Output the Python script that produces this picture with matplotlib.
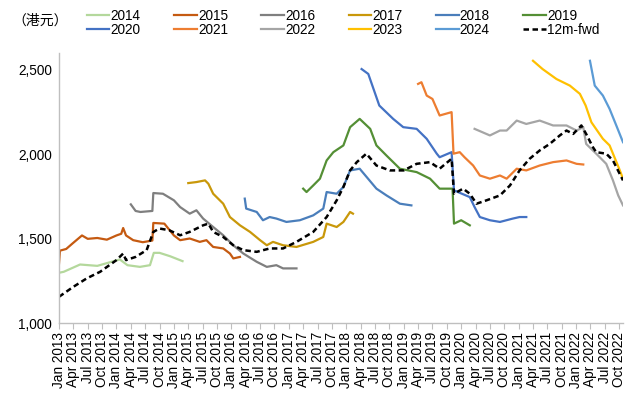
import matplotlib
matplotlib.use("Agg")
import matplotlib.pyplot as plt

plt.rcParams['font.family'] = ['Liberation Sans', 'Noto Sans CJK SC', 'DejaVu Sans']

# months counted from Jan 2013, values in HKD
m2014 = [0, 1, 4.4, 8, 12.7, 14.3, 16.9, 19, 19.8, 21, 23.2, 25.8]
v2014 = [1299, 1305, 1348, 1340, 1378, 1344, 1334, 1344, 1417, 1417, 1397, 1368]

m2015 = [0, 0.2, 1.5, 2.8, 4.8, 6, 8, 10, 12, 13, 13.4, 14, 15.5, 17.5, 19.5, 19.7, 22, 24, 25.3, 27.3,
         29.4, 30.8, 32.2, 34.3, 35.7, 36.4, 37.8]
v2015 = [1354, 1430, 1440, 1472, 1520, 1500, 1505, 1495, 1520, 1530, 1564, 1520, 1492, 1480, 1490, 1594, 1590,
         1520, 1492, 1502, 1482, 1492, 1452, 1443, 1413, 1384, 1393]

m2016 = [15, 16, 17, 19.5, 19.7, 21.7, 24, 25.3, 27.3, 28.7, 30.1, 32.2, 34.3, 36.4, 38.5, 41.3, 43.4, 45.4,
         46.8, 49.6]
v2016 = [1704, 1665, 1659, 1665, 1771, 1767, 1728, 1688, 1649, 1669, 1620, 1570, 1521, 1462, 1413, 1364, 1334,
         1344, 1325, 1325]

m2017 = [27, 28.7, 30.5, 31.2, 32.2, 34.3, 35.7, 37.8, 39.9, 42, 43.4, 44.7, 46.8, 49.6, 53.1, 55.2, 55.9,
         58, 59.4, 60.8, 61.4]
v2017 = [1830, 1836, 1846, 1826, 1767, 1708, 1629, 1580, 1541, 1492, 1462, 1482, 1462, 1452, 1482, 1511, 1590,
         1570, 1600, 1659, 1649]

m2018 = [38.8, 39.1, 41.3, 42.6, 44, 45.4, 47.5, 50.3, 53.1, 55.2, 55.9, 58, 59.4, 60.8, 62.8, 66.3, 68.4,
         71.2, 73.6]
v2018 = [1738, 1679, 1659, 1610, 1629, 1620, 1600, 1610, 1639, 1679, 1777, 1767, 1807, 1905, 1915, 1797, 1757,
         1708, 1698]

m2019 = [51, 51.7, 53.1, 54.5, 55.9, 57.3, 59.4, 60.8, 62.8, 65, 66.3, 68.4, 71.2, 74.7, 77.5, 79.5, 82.2,
         82.5, 84, 85.8]
v2019 = [1797, 1777, 1816, 1856, 1964, 2013, 2053, 2161, 2210, 2151, 2053, 1993, 1915, 1895, 1856, 1797, 1797,
         1590, 1610, 1580]

m2020 = [63.2, 64.6, 66.9, 69.8, 71.9, 74.7, 76.8, 78.9, 79.5, 82, 82.5, 85.8, 86.8, 87.9, 90, 92.1, 94.8,
         96.2, 97.6]
v2020 = [2505, 2476, 2289, 2210, 2161, 2151, 2092, 2004, 1983, 2013, 1787, 1747, 1688, 1629, 1610, 1600, 1620,
         1629, 1629]

m2021 = [75, 75.7, 76.8, 78, 79.5, 82, 82.4, 83.7, 84.7, 86.5, 87.9, 90, 92.1, 93.5, 95.6, 97.6, 100.4, 103.2,
         106, 108.1, 109.5]
v2021 = [2417, 2427, 2348, 2328, 2230, 2250, 2004, 2013, 1983, 1934, 1875, 1856, 1875, 1856, 1915, 1905, 1934,
         1954, 1964, 1944, 1940]

m2022 = [86.8, 90, 92.1, 93.5, 95.6, 97.6, 100.4, 103.2, 106, 108.1, 109.5, 110.1, 112.2, 114.3, 115.7, 116.8,
         117.8]
v2022 = [2151, 2112, 2141, 2141, 2200, 2180, 2200, 2171, 2171, 2141, 2161, 2062, 2004, 1944, 1846, 1757, 1698]

m2023 = [99, 101, 103.9, 106.7, 108.8, 110, 111.2, 113.6, 115, 117, 117.8]
v2023 = [2554, 2505, 2446, 2407, 2358, 2289, 2190, 2092, 2053, 1915, 1856]

m2024 = [110.9, 111.9, 113.6, 115, 116.4, 117.8]
v2024 = [2554, 2407, 2348, 2269, 2171, 2072]

m_fwd = [0, 3, 5.8, 8.6, 12, 13.4, 14, 16, 18.3, 19.7, 21, 23, 25.3, 27.3, 30.1, 31.2, 32.2, 34.3, 36.4, 38.5,
         41.3, 44, 46.8, 49.6, 53.1, 55.9, 58, 59.4, 60.8, 62.2, 64.2, 66.3, 69.1, 72, 74.7, 77.5, 79.5, 82,
         82.5, 84.4, 85.8, 87.2, 89.3, 92.1, 94.2, 96.2, 98.3, 100.4, 102.5, 104.6, 106, 107.4, 109.1, 110.1,
         111.5, 112.2, 114.3, 115.7, 117.8]
v_fwd = [1157, 1216, 1266, 1305, 1374, 1413, 1374, 1393, 1433, 1541, 1561, 1551, 1521, 1541, 1580, 1590, 1541,
         1511, 1462, 1433, 1423, 1443, 1443, 1482, 1541, 1629, 1728, 1807, 1905, 1954, 2004, 1934, 1905, 1905,
         1944, 1954, 1915, 1974, 1767, 1797, 1767, 1708, 1728, 1757, 1816, 1905, 1974, 2023, 2062, 2112, 2141,
         2121, 2171, 2121, 2043, 2013, 2004, 1964, 1846]

series = [
    ("2014", m2014, v2014, "#b4d89c"),
    ("2015", m2015, v2015, "#c55a11"),
    ("2016", m2016, v2016, "#7f7f7f"),
    ("2017", m2017, v2017, "#c9980a"),
    ("2018", m2018, v2018, "#4a7ebb"),
    ("2019", m2019, v2019, "#548f35"),
    ("2020", m2020, v2020, "#4472c4"),
    ("2021", m2021, v2021, "#ed7d31"),
    ("2022", m2022, v2022, "#a5a5a5"),
    ("2023", m2023, v2023, "#ffc000"),
    ("2024", m2024, v2024, "#5b9bd5"),
]

month_names = ["Jan", "Apr", "Jul", "Oct"]
tick_pos = list(range(0, 118, 3))
tick_labels = [f"{month_names[(p % 12) // 3]} {2013 + p // 12}" for p in tick_pos]

fig = plt.figure(figsize=(6.4, 3.97), dpi=100)
ax = fig.add_axes([59 / 640, 1 - 323.3 / 397, (623 - 59) / 640, (323.3 - 53) / 397])

handles = {}
for name, mx, vy, col in series:
    ln, = ax.plot(mx, vy, color=col, lw=1.6, label=name)
    handles[name] = ln
ln, = ax.plot(m_fwd, v_fwd, color="black", lw=1.8, ls=(0, (2.2, 1.4)), label="12m-fwd")
handles["12m-fwd"] = ln

ax.set_xlim(0, 117.8)
ax.set_ylim(1000, 2600)
ax.set_yticks([1000, 1500, 2000, 2500])
ax.set_yticklabels(["1,000", "1,500", "2,000", "2,500"])
ax.set_xticks(tick_pos)
ax.set_xticklabels(tick_labels, rotation=90)
ax.tick_params(axis="x", length=4, color="#bfbfbf", labelsize=9.8, pad=2)
ax.tick_params(axis="y", length=0, labelsize=9.8, pad=5)
for s in ["top", "right"]:
    ax.spines[s].set_visible(False)
for s in ["left", "bottom"]:
    ax.spines[s].set_color("#bfbfbf")
    ax.spines[s].set_linewidth(1)

# legend: row-major order (matplotlib fills columns first)
row1 = ["2014", "2015", "2016", "2017", "2018", "2019"]
row2 = ["2020", "2021", "2022", "2023", "2024", "12m-fwd"]
order = [n for pair in zip(row1, row2) for n in pair]
fig.legend([handles[n] for n in order], order, ncol=6, frameon=False,
           loc="upper left", bbox_to_anchor=(87 / 640, 1 - 9 / 397),
           fontsize=9.8, handlelength=1.65, handletextpad=0.1,
           columnspacing=2.45, labelspacing=0.0, borderpad=0, borderaxespad=0)

fig.text(12 / 640, 1 - 21 / 397, "（港元）", fontsize=10, va="center",
         family=["Noto Sans CJK SC", "DejaVu Sans"])

fig.savefig("out.png", dpi=100)
